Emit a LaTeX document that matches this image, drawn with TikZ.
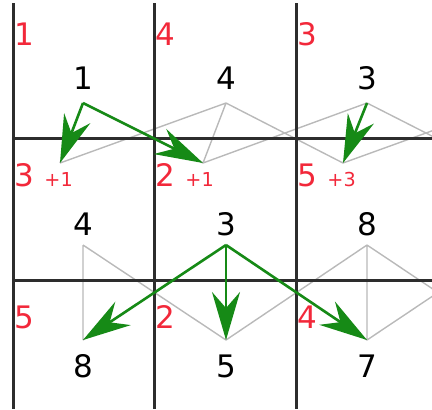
\documentclass[tikz,border=0pt]{standalone}
\usepackage{fontspec}
\setmainfont{DejaVu Sans}
\usetikzlibrary{arrows.meta, positioning}

\definecolor{costred}{RGB}{242,40,58}
\definecolor{pathgreen}{RGB}{22,138,22}
\definecolor{gridline}{RGB}{45,45,45}

\begin{document}
\begin{tikzpicture}[
    x=0.5pt, y=-0.5pt,
    val/.style={inner sep=0pt, font=\fontsize{15.5}{18}\selectfont},
    cost/.style={inner sep=0pt, anchor=base west, text=costred, font=\fontsize{15.5}{18}\selectfont},
    gridrule/.style={draw=gridline, line width=1.5pt},
    link/.style={draw=gray!55, line width=0.7pt},
    arrow/.style={-{Stealth[length=24pt, width=14pt, inset=8pt]}, draw=pathgreen, fill=pathgreen, line width=1.3pt}
]
\useasboundingbox (0,0) rectangle (432,409);
\clip (0,0) rectangle (432,409);

% points, upper band
\coordinate (a1) at (83,103);
\coordinate (a2) at (226,103);
\coordinate (a3) at (367,103);
\coordinate (a4) at (509,103);
\coordinate (b1) at (60,163);
\coordinate (b2) at (203,163);
\coordinate (b3) at (343,163);
\coordinate (b4) at (485,163);
% points, lower band
\coordinate (c1) at (83,245);
\coordinate (c2) at (226,245);
\coordinate (c3) at (367,245);
\coordinate (c4) at (509,245);
\coordinate (d1) at (83,340);
\coordinate (d2) at (226,340);
\coordinate (d3) at (367,340);
\coordinate (d4) at (509,340);

% red costs
\node[cost] (k11) at (14.5,45) {1};
\node[cost] (k12) at (155.5,45) {4};
\node[cost] (k13) at (297.5,45) {3};
\node[cost] (k21) at (14.5,186) {3 {\fontsize{9.6}{11}\selectfont +1}};
\node[cost] (k22) at (155.5,186) {2 {\fontsize{9.6}{11}\selectfont +1}};
\node[cost] (k23) at (297.5,186) {5 {\fontsize{9.6}{11}\selectfont +3}};
\node[cost] (k31) at (14.5,328) {5};
\node[cost] (k32) at (155.5,328) {2};
\node[cost] (k33) at (297.5,328) {4};

% gray links
\draw[link] (a1) -- (b1) (a1) -- (b2) (b1) -- (a2) (a2) -- (b2) (a2) -- (b3)
    (b2) -- (a3) (a3) -- (b3) (a3) -- (b4) (b3) -- (a4);
\draw[link] (c1) -- (d1) (c1) -- (d2) (d1) -- (c2) (c2) -- (d2) (c2) -- (d3)
    (d2) -- (c3) (c3) -- (d3) (c3) -- (d4) (d3) -- (c4);

% grid
\draw[gridrule] (13,3) -- (13,409);
\draw[gridrule] (154,3) -- (154,409);
\draw[gridrule] (296,3) -- (296,409);
\draw[gridrule] (13,138) -- (432,138);
\draw[gridrule] (13,280) -- (432,280);

% chosen moves
\draw[arrow] (a1) -- (b1);
\draw[arrow] (a1) -- (b2);
\draw[arrow] (a3) -- (b3);
\draw[arrow] (c2) -- (d1);
\draw[arrow] (c2) -- (d2);
\draw[arrow] (c2) -- (d3);

% values
\node[val, above=6.5pt of a1] (v1) {1};
\node[val, above=6.5pt of a2] (v2) {4};
\node[val, above=6.5pt of a3] (v3) {3};
\node[val, above=4.5pt of c1] (v4) {4};
\node[val, above=4.5pt of c2] (v5) {3};
\node[val, above=4.5pt of c3] (v6) {8};
\node[val, below=7pt of d1] (v7) {8};
\node[val, below=7pt of d2] (v8) {5};
\node[val, below=7pt of d3] (v9) {7};

\end{tikzpicture}
\end{document}
